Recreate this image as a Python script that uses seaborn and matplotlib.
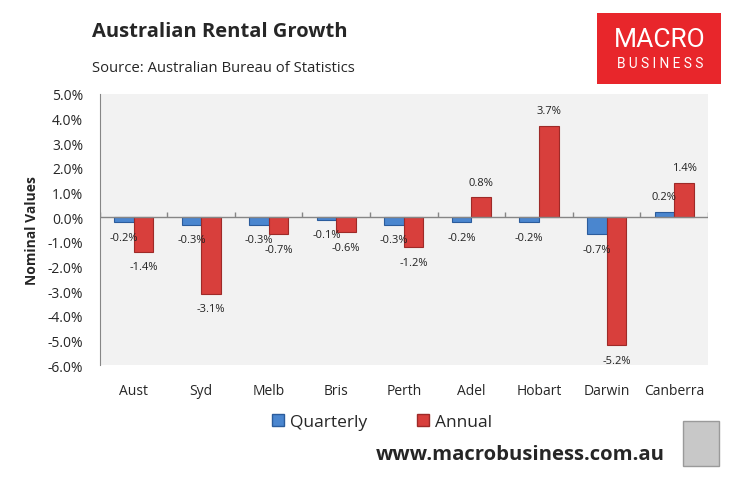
import pandas as pd
import matplotlib.pyplot as plt
import seaborn as sns
from matplotlib.patches import Rectangle, Patch

# data
cities = ['Aust', 'Syd', 'Melb', 'Bris', 'Perth', 'Adel', 'Hobart', 'Darwin', 'Canberra']
quarterly = [-0.2, -0.3, -0.3, -0.1, -0.3, -0.2, -0.2, -0.7, 0.2]
annual = [-1.4, -3.1, -0.7, -0.6, -1.2, 0.8, 3.7, -5.2, 1.4]
y_ticks = [5, 4, 3, 2, 1, 0, -1, -2, -3, -4, -5, -6]

df = pd.DataFrame({'City': cities * 2,
                   'Value': quarterly + annual,
                   'Series': ['Quarterly'] * len(cities) + ['Annual'] * len(cities)})

sns.set_style('white')
plt.rcParams['font.family'] = ['Open Sans', 'DejaVu Sans']

fig = plt.figure(figsize=(7.39, 4.81), dpi=100)
ax = fig.add_axes([0.135, 0.239, 0.823, 0.5635])
ax.set_facecolor('#f2f2f2')

colors = {'Quarterly': '#4a86cf', 'Annual': '#d83f3c'}
edges = {'Quarterly': '#2b5c9c', 'Annual': '#9e2a28'}
sns.barplot(data=df, x='City', y='Value', hue='Series', palette=colors,
            width=0.58, ax=ax, legend=False, saturation=1)

# edge colours + value labels
for cont, name in zip(ax.containers, ['Quarterly', 'Annual']):
    for bar in cont:
        bar.set_edgecolor(edges[name])
        bar.set_linewidth(0.8)
        v = bar.get_height()
        x = bar.get_x() + bar.get_width() / 2
        ax.annotate(f'{v:.1f}%', (x, v), xytext=(0, 11 if v > 0 else -11),
                    textcoords='offset points', ha='center', va='center',
                    fontsize=8, color='#222222')

ax.set_ylim(-6, 5)
ax.set_xlim(-0.5, len(cities) - 0.5)
ax.set_yticks(y_ticks)
ax.set_yticklabels([f'{t:.1f}%' for t in y_ticks], fontsize=10)
ax.tick_params(axis='y', length=0, pad=12)
ax.tick_params(axis='x', length=0, pad=13, labelsize=10)
ax.set_xlabel('')
ax.set_ylabel('Nominal Values', fontsize=10, fontweight='bold', labelpad=6)

for s in ['top', 'right', 'bottom']:
    ax.spines[s].set_visible(False)
ax.spines['left'].set_color('#868686')
ax.axhline(0, color='#868686', lw=1)
ax.vlines([i + 0.5 for i in range(-1, len(cities))], 0, 0.2, color='#868686', lw=1)

# legend
handles = [Patch(facecolor=colors[k], edgecolor=edges[k], label=k) for k in ['Quarterly', 'Annual']]
fig.legend(handles=handles, loc='center', bbox_to_anchor=(0.517, 0.12), ncol=2,
           frameon=False, fontsize=12.5, handlelength=0.7, handleheight=0.7,
           handletextpad=0.3, columnspacing=2.9)

# titles
fig.text(92 / 739, 1 - 32 / 481, 'Australian Rental Growth', fontsize=14.5,
         fontweight='bold', va='center', ha='left')
fig.text(92 / 739, 1 - 68 / 481, 'Source: Australian Bureau of Statistics',
         fontsize=10.7, va='center', ha='left')
fig.text(665 / 739, 1 - 455 / 481, 'www.macrobusiness.com.au', fontsize=14.6,
         fontweight='bold', va='center', ha='right')

# logo
fig.patches.append(Rectangle((597 / 739, 1 - 85 / 481), 124 / 739, 71 / 481,
                             transform=fig.transFigure, facecolor='#e8262b',
                             edgecolor='none'))
fig.text(660 / 739, 1 - 40 / 481, 'MACRO', color='white', fontsize=19,
         ha='center', va='center', family=['Roboto', 'DejaVu Sans'])
fig.text(660 / 739, 1 - 64 / 481, 'B U S I N E S S', color='white', fontsize=9.8,
         ha='center', va='center', family=['Roboto', 'DejaVu Sans'])
fig.patches.append(Rectangle((683 / 739, 1 - 467 / 481), 36 / 739, 45 / 481,
                             transform=fig.transFigure, facecolor='#c8c8c8',
                             edgecolor='#9a9a9a', lw=1))

fig.savefig('out.png', dpi=100)
